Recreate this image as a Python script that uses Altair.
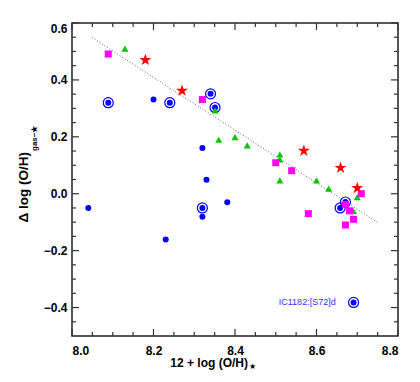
import altair as alt
import pandas as pd

# ---- data ----
blue_x = [8.040, 8.200, 8.320, 8.330, 8.320, 8.230, 8.381, 8.089, 8.240, 8.340, 8.351, 8.320, 8.658, 8.671, 8.691]
blue_y = [-0.050, 0.331, 0.161, 0.049, -0.081, -0.161, -0.030, 0.320, 0.320, 0.351, 0.303, -0.050, -0.050, -0.029, -0.382]
blue_ring = [0, 0, 0, 0, 0, 0, 0, 1, 1, 1, 1, 1, 1, 1, 1]

star_x = [8.180, 8.270, 8.569, 8.659, 8.700]
star_y = [0.470, 0.362, 0.151, 0.091, 0.020]

sq_x = [8.089, 8.320, 8.500, 8.539, 8.580, 8.671, 8.681, 8.691, 8.671, 8.710]
sq_y = [0.491, 0.331, 0.109, 0.081, -0.070, -0.038, -0.060, -0.090, -0.110, 0.000]

tri_x = [8.130, 8.351, 8.360, 8.400, 8.430, 8.510, 8.510, 8.510, 8.600, 8.630, 8.700, 8.691]
tri_y = [0.510, 0.293, 0.190, 0.199, 0.170, 0.138, 0.120, 0.047, 0.047, 0.018, -0.012, -0.061]

fit_x = [8.049, 8.751]
fit_y = [0.549, -0.102]

label_x = [8.647]
label_y = [-0.382]
label_text = ["IC1182:[S72]d"]

x_major = [8.0, 8.2, 8.4, 8.6, 8.8]
x_minor = [8.05, 8.1, 8.15, 8.25, 8.3, 8.35, 8.45, 8.5, 8.55, 8.65, 8.7, 8.75]
y_major = [-0.4, -0.2, 0.0, 0.2, 0.4, 0.6]
y_minor = [-0.45, -0.35, -0.3, -0.25, -0.15, -0.1, -0.05, 0.05, 0.1, 0.15,
           0.25, 0.3, 0.35, 0.45, 0.5, 0.55]

W, H = 326, 313
FONT = "Liberation Sans"
STAR = ("M0,-1 L0.2245,-0.309 L0.951,-0.309 L0.363,0.118 L0.588,0.809 L0,0.382 "
        "L-0.588,0.809 L-0.363,0.118 L-0.951,-0.309 L-0.2245,-0.309 Z")

xs = alt.Scale(domain=[8.0, 8.8], nice=False, zero=False)
ys = alt.Scale(domain=[-0.5, 0.6], nice=False, zero=False)

xaxis = alt.Axis(values=x_major, format=".1f", tickSize=0, domain=False, grid=False,
                 labelPadding=9, labelFont=FONT, labelFontSize=12, labelFontWeight="bold",
                 labelColor="black", title=None)
yaxis = alt.Axis(values=y_major, format=".1f", tickSize=0, domain=False, grid=False,
                 labelPadding=5, labelFont=FONT, labelFontSize=12, labelFontWeight="bold",
                 labelColor="black", labelFlush=True, title=None)

blue_df = pd.DataFrame({"x": blue_x, "y": blue_y, "ring": blue_ring})
dots = alt.Chart(blue_df).mark_point(shape="circle", filled=True, color="#0000ff", size=36, opacity=1).encode(
    x=alt.X("x:Q", scale=xs, axis=xaxis), y=alt.Y("y:Q", scale=ys, axis=yaxis))
rings = alt.Chart(blue_df).transform_filter("datum.ring == 1").mark_point(
    shape="circle", filled=False, color="#0000ff", size=100, strokeWidth=1.2, opacity=1).encode(
    x=alt.X("x:Q", scale=xs), y=alt.Y("y:Q", scale=ys))

tris = alt.Chart(pd.DataFrame({"x": tri_x, "y": tri_y})).mark_point(
    shape="triangle-up", filled=True, color="#00c800", size=49, opacity=1).encode(
    x=alt.X("x:Q", scale=xs), y=alt.Y("y:Q", scale=ys))
sqs = alt.Chart(pd.DataFrame({"x": sq_x, "y": sq_y})).mark_point(
    shape="square", filled=True, color="#ff00ff", size=49, opacity=1).encode(
    x=alt.X("x:Q", scale=xs), y=alt.Y("y:Q", scale=ys))
stars = alt.Chart(pd.DataFrame({"x": star_x, "y": star_y})).mark_point(
    shape=STAR, filled=True, color="#ff0000", size=160, opacity=1).encode(
    x=alt.X("x:Q", scale=xs), y=alt.Y("y:Q", scale=ys))

fit = alt.Chart(pd.DataFrame({"x": fit_x, "y": fit_y})).mark_line(
    color="#666666", strokeWidth=1, strokeDash=[1, 2]).encode(
    x=alt.X("x:Q", scale=xs), y=alt.Y("y:Q", scale=ys))

lab = alt.Chart(pd.DataFrame({"x": label_x, "y": label_y, "t": label_text})).mark_text(
    align="right", baseline="middle", font=FONT, fontSize=9, color="#3333ff").encode(
    x=alt.X("x:Q", scale=xs), y=alt.Y("y:Q", scale=ys), text="t:N")

# ---- inward ticks on all four sides ----
TC = "#333333"
def xticks(vals, length):
    d = pd.DataFrame({"tx": vals})
    b = alt.Chart(d).mark_rule(color=TC, strokeWidth=1.2).encode(
        x=alt.X("tx:Q", scale=xs), y=alt.value(H), y2=alt.value(H - length))
    t = alt.Chart(d).mark_rule(color=TC, strokeWidth=1.2).encode(
        x=alt.X("tx:Q", scale=xs), y=alt.value(0), y2=alt.value(length))
    return [b, t]

def yticks(vals, length):
    d = pd.DataFrame({"ty": vals})
    l = alt.Chart(d).mark_rule(color=TC, strokeWidth=1.2).encode(
        y=alt.Y("ty:Q", scale=ys), x=alt.value(0), x2=alt.value(length))
    r = alt.Chart(d).mark_rule(color=TC, strokeWidth=1.2).encode(
        y=alt.Y("ty:Q", scale=ys), x=alt.value(W), x2=alt.value(W - length))
    return [l, r]

ticks = xticks(x_major, 7) + xticks(x_minor, 4) + yticks(y_major, 7) + yticks(y_minor, 4)

# ---- axis titles with subscripts ----
tdf = pd.DataFrame({"a": [0]})
xt_main = alt.Chart(tdf).mark_text(align="right", baseline="alphabetic", font=FONT, fontSize=12,
                                   fontWeight="bold", color="black", text="12 + log (O/H)").encode(
    x=alt.value(176), y=alt.value(344))
xt_sub = alt.Chart(tdf).mark_text(align="left", baseline="alphabetic", font="DejaVu Sans", fontSize=8,
                                  color="black", text="★").encode(
    x=alt.value(177), y=alt.value(346))
yt_main = alt.Chart(tdf).mark_text(align="right", baseline="alphabetic", angle=270, font=FONT, fontSize=13.5,
                                   fontWeight="bold", color="black", text="Δ log (O/H)").encode(
    x=alt.value(-44), y=alt.value(129))
yt_sub = alt.Chart(tdf).mark_text(align="left", baseline="alphabetic", angle=270, font=FONT, fontSize=8,
                                  fontWeight="bold", color="black", text="gas−★").encode(
    x=alt.value(-35), y=alt.value(128))

chart = alt.layer(
    fit, *ticks, dots, rings, tris, sqs, stars, lab,
    xt_main, xt_sub, yt_main, yt_sub
).properties(
    width=W, height=H,
    autosize=alt.AutoSizeParams(type="none"),
    padding={"left": 64, "top": 15, "right": 14, "bottom": 34},
).configure(
    background="white",
    view=alt.ViewConfig(stroke="#222222", strokeWidth=1.5),
)

chart.save("out.html", embed_options={"renderer": "svg", "actions": False})
